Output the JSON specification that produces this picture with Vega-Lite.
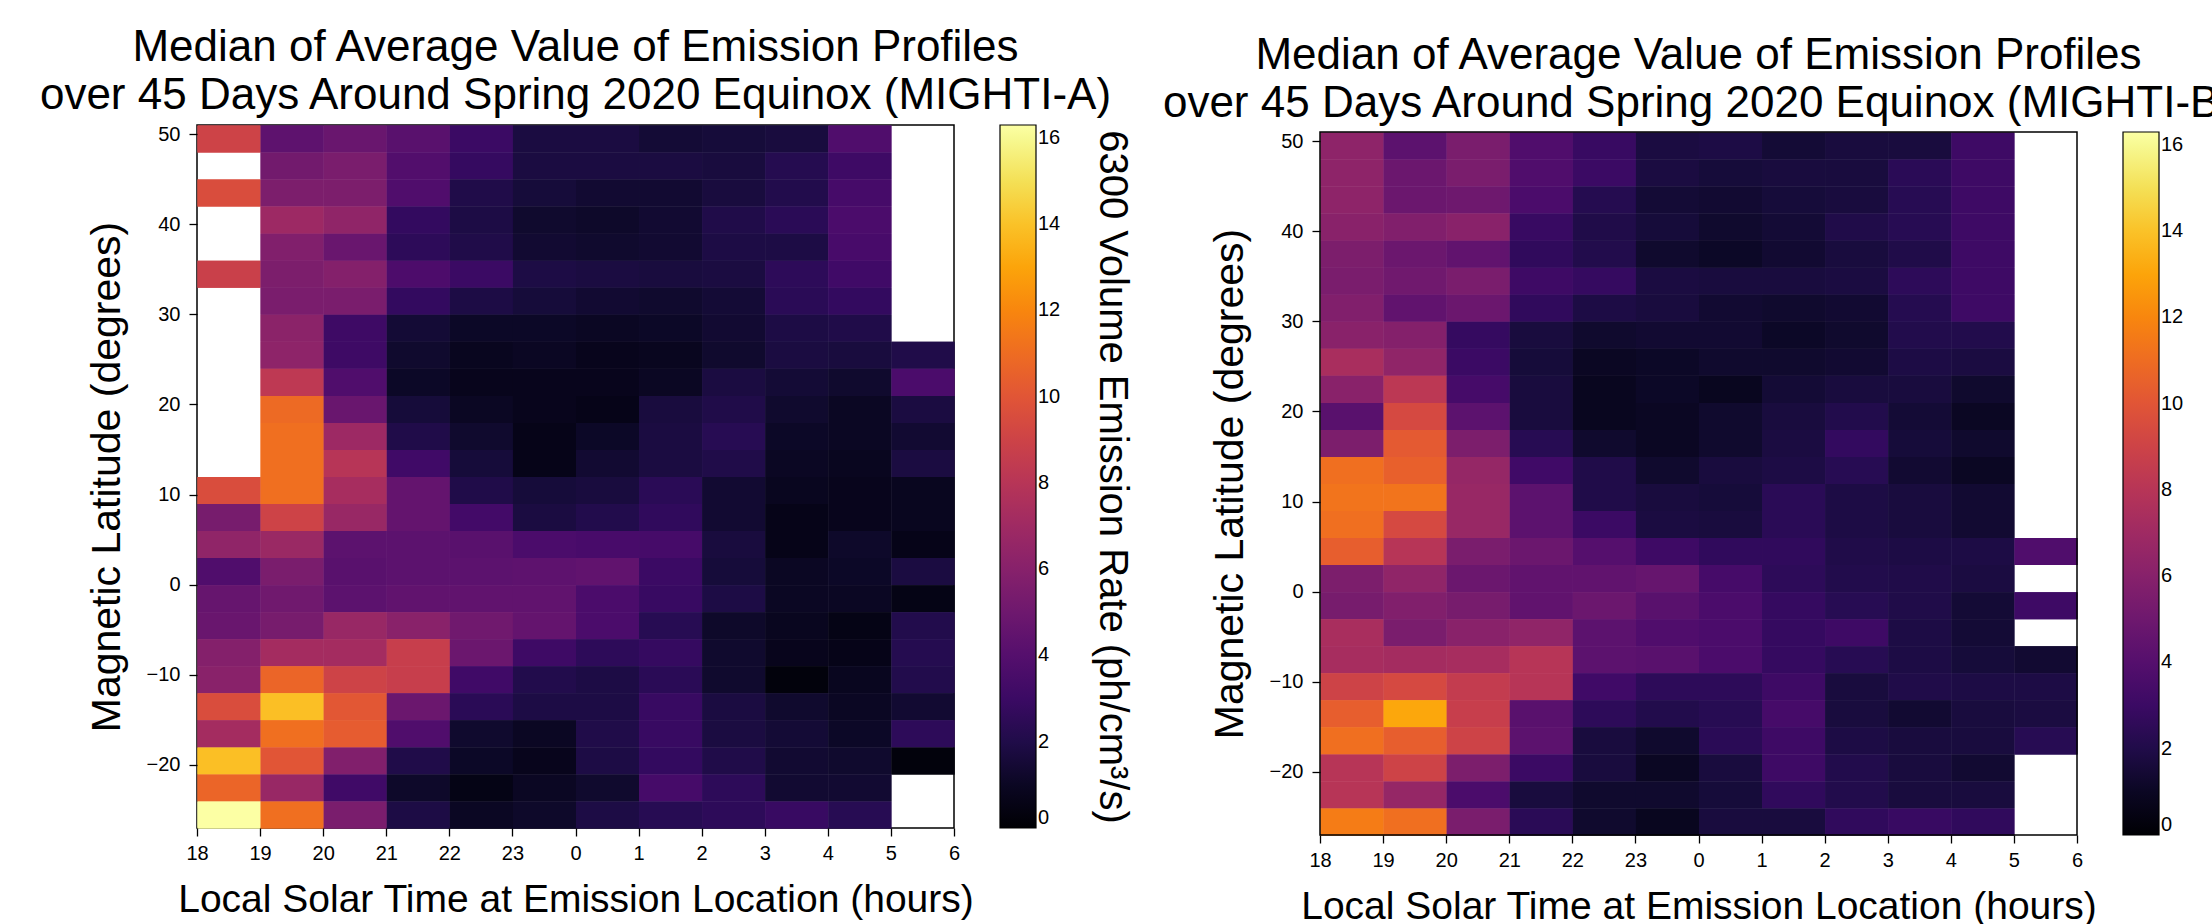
{
"$schema": "https://vega.github.io/schema/vega-lite/v6.json",
"padding": {"left": 37, "top": 25, "right": 0, "bottom": 0},
"background": "white",
"datasets": {
"a": [
{"h":0,"lat":48,"v":9.0},{"h":1,"lat":48,"v":4.4},{"h":2,"lat":48,"v":4.8},{"h":3,"lat":48,"v":4.2},{"h":4,"lat":48,"v":3.0},{"h":5,"lat":48,"v":1.8},{"h":6,"lat":48,"v":1.8},{"h":7,"lat":48,"v":1.5},{"h":8,"lat":48,"v":1.6},{"h":9,"lat":48,"v":1.7},{"h":10,"lat":48,"v":3.8},
{"h":1,"lat":45,"v":5.2},{"h":2,"lat":45,"v":5.5},{"h":3,"lat":45,"v":3.9},{"h":4,"lat":45,"v":2.8},{"h":5,"lat":45,"v":1.8},{"h":6,"lat":45,"v":1.8},{"h":7,"lat":45,"v":1.8},{"h":8,"lat":45,"v":1.7},{"h":9,"lat":45,"v":2.2},{"h":10,"lat":45,"v":3.1},
{"h":0,"lat":42,"v":9.6},{"h":1,"lat":42,"v":5.6},{"h":2,"lat":42,"v":5.6},{"h":3,"lat":42,"v":3.8},{"h":4,"lat":42,"v":2.0},{"h":5,"lat":42,"v":1.6},{"h":6,"lat":42,"v":1.4},{"h":7,"lat":42,"v":1.4},{"h":8,"lat":42,"v":1.7},{"h":9,"lat":42,"v":2.1},{"h":10,"lat":42,"v":3.4},
{"h":1,"lat":39,"v":6.9},{"h":2,"lat":39,"v":6.4},{"h":3,"lat":39,"v":2.7},{"h":4,"lat":39,"v":1.9},{"h":5,"lat":39,"v":1.3},{"h":6,"lat":39,"v":1.2},{"h":7,"lat":39,"v":1.4},{"h":8,"lat":39,"v":2.0},{"h":9,"lat":39,"v":2.4},{"h":10,"lat":39,"v":3.6},
{"h":1,"lat":36,"v":5.8},{"h":2,"lat":36,"v":4.8},{"h":3,"lat":36,"v":2.5},{"h":4,"lat":36,"v":2.0},{"h":5,"lat":36,"v":1.4},{"h":6,"lat":36,"v":1.3},{"h":7,"lat":36,"v":1.4},{"h":8,"lat":36,"v":1.9},{"h":9,"lat":36,"v":1.9},{"h":10,"lat":36,"v":3.5},
{"h":0,"lat":33,"v":8.8},{"h":1,"lat":33,"v":5.6},{"h":2,"lat":33,"v":5.9},{"h":3,"lat":33,"v":3.7},{"h":4,"lat":33,"v":3.0},{"h":5,"lat":33,"v":1.9},{"h":6,"lat":33,"v":1.8},{"h":7,"lat":33,"v":1.7},{"h":8,"lat":33,"v":1.8},{"h":9,"lat":33,"v":2.5},{"h":10,"lat":33,"v":3.2},
{"h":1,"lat":30,"v":5.5},{"h":2,"lat":30,"v":5.5},{"h":3,"lat":30,"v":2.7},{"h":4,"lat":30,"v":1.9},{"h":5,"lat":30,"v":1.6},{"h":6,"lat":30,"v":1.4},{"h":7,"lat":30,"v":1.3},{"h":8,"lat":30,"v":1.5},{"h":9,"lat":30,"v":2.4},{"h":10,"lat":30,"v":2.7},
{"h":1,"lat":27,"v":6.2},{"h":2,"lat":27,"v":3.1},{"h":3,"lat":27,"v":1.5},{"h":4,"lat":27,"v":1.1},{"h":5,"lat":27,"v":1.1},{"h":6,"lat":27,"v":1.0},{"h":7,"lat":27,"v":1.1},{"h":8,"lat":27,"v":1.4},{"h":9,"lat":27,"v":1.9},{"h":10,"lat":27,"v":2.0},
{"h":1,"lat":24,"v":6.3},{"h":2,"lat":24,"v":3.1},{"h":3,"lat":24,"v":1.3},{"h":4,"lat":24,"v":0.9},{"h":5,"lat":24,"v":1.0},{"h":6,"lat":24,"v":0.8},{"h":7,"lat":24,"v":0.9},{"h":8,"lat":24,"v":1.3},{"h":9,"lat":24,"v":1.8},{"h":10,"lat":24,"v":1.7},{"h":11,"lat":24,"v":2.0},
{"h":1,"lat":21,"v":8.3},{"h":2,"lat":21,"v":3.8},{"h":3,"lat":21,"v":1.1},{"h":4,"lat":21,"v":0.8},{"h":5,"lat":21,"v":0.8},{"h":6,"lat":21,"v":0.8},{"h":7,"lat":21,"v":1.0},{"h":8,"lat":21,"v":1.8},{"h":9,"lat":21,"v":1.5},{"h":10,"lat":21,"v":1.3},{"h":11,"lat":21,"v":3.6},
{"h":1,"lat":18,"v":10.9},{"h":2,"lat":18,"v":4.8},{"h":3,"lat":18,"v":1.6},{"h":4,"lat":18,"v":1.0},{"h":5,"lat":18,"v":0.8},{"h":6,"lat":18,"v":0.7},{"h":7,"lat":18,"v":1.7},{"h":8,"lat":18,"v":2.0},{"h":9,"lat":18,"v":1.3},{"h":10,"lat":18,"v":1.0},{"h":11,"lat":18,"v":1.8},
{"h":1,"lat":15,"v":11.1},{"h":2,"lat":15,"v":6.9},{"h":3,"lat":15,"v":2.0},{"h":4,"lat":15,"v":1.3},{"h":5,"lat":15,"v":0.7},{"h":6,"lat":15,"v":1.1},{"h":7,"lat":15,"v":1.8},{"h":8,"lat":15,"v":2.3},{"h":9,"lat":15,"v":1.1},{"h":10,"lat":15,"v":1.0},{"h":11,"lat":15,"v":1.4},
{"h":1,"lat":12,"v":11.1},{"h":2,"lat":12,"v":8.0},{"h":3,"lat":12,"v":3.2},{"h":4,"lat":12,"v":1.6},{"h":5,"lat":12,"v":0.7},{"h":6,"lat":12,"v":1.4},{"h":7,"lat":12,"v":1.8},{"h":8,"lat":12,"v":2.0},{"h":9,"lat":12,"v":1.0},{"h":10,"lat":12,"v":0.9},{"h":11,"lat":12,"v":1.8},
{"h":0,"lat":9,"v":9.6},{"h":1,"lat":9,"v":11.1},{"h":2,"lat":9,"v":7.3},{"h":3,"lat":9,"v":4.6},{"h":4,"lat":9,"v":2.0},{"h":5,"lat":9,"v":1.6},{"h":6,"lat":9,"v":1.7},{"h":7,"lat":9,"v":2.4},{"h":8,"lat":9,"v":1.4},{"h":9,"lat":9,"v":0.9},{"h":10,"lat":9,"v":0.8},{"h":11,"lat":9,"v":0.9},
{"h":0,"lat":6,"v":5.4},{"h":1,"lat":6,"v":9.0},{"h":2,"lat":6,"v":6.7},{"h":3,"lat":6,"v":4.6},{"h":4,"lat":6,"v":3.3},{"h":5,"lat":6,"v":1.8},{"h":6,"lat":6,"v":2.1},{"h":7,"lat":6,"v":2.6},{"h":8,"lat":6,"v":1.4},{"h":9,"lat":6,"v":0.7},{"h":10,"lat":6,"v":0.8},{"h":11,"lat":6,"v":0.9},
{"h":0,"lat":3,"v":6.4},{"h":1,"lat":3,"v":6.8},{"h":2,"lat":3,"v":4.3},{"h":3,"lat":3,"v":4.3},{"h":4,"lat":3,"v":4.2},{"h":5,"lat":3,"v":3.6},{"h":6,"lat":3,"v":3.5},{"h":7,"lat":3,"v":3.4},{"h":8,"lat":3,"v":1.7},{"h":9,"lat":3,"v":0.7},{"h":10,"lat":3,"v":1.2},{"h":11,"lat":3,"v":0.7},
{"h":0,"lat":0,"v":3.8},{"h":1,"lat":0,"v":5.5},{"h":2,"lat":0,"v":4.2},{"h":3,"lat":0,"v":4.3},{"h":4,"lat":0,"v":4.3},{"h":5,"lat":0,"v":4.4},{"h":6,"lat":0,"v":4.5},{"h":7,"lat":0,"v":3.0},{"h":8,"lat":0,"v":1.6},{"h":9,"lat":0,"v":1.0},{"h":10,"lat":0,"v":1.1},{"h":11,"lat":0,"v":1.8},
{"h":0,"lat":-3,"v":4.7},{"h":1,"lat":-3,"v":5.1},{"h":2,"lat":-3,"v":4.3},{"h":3,"lat":-3,"v":4.5},{"h":4,"lat":-3,"v":4.5},{"h":5,"lat":-3,"v":4.5},{"h":6,"lat":-3,"v":3.6},{"h":7,"lat":-3,"v":2.9},{"h":8,"lat":-3,"v":1.9},{"h":9,"lat":-3,"v":1.0},{"h":10,"lat":-3,"v":1.0},{"h":11,"lat":-3,"v":0.6},
{"h":0,"lat":-6,"v":4.8},{"h":1,"lat":-6,"v":5.4},{"h":2,"lat":-6,"v":6.7},{"h":3,"lat":-6,"v":6.1},{"h":4,"lat":-6,"v":5.1},{"h":5,"lat":-6,"v":4.6},{"h":6,"lat":-6,"v":3.6},{"h":7,"lat":-6,"v":2.3},{"h":8,"lat":-6,"v":1.2},{"h":9,"lat":-6,"v":0.9},{"h":10,"lat":-6,"v":0.6},{"h":11,"lat":-6,"v":2.1},
{"h":0,"lat":-9,"v":5.9},{"h":1,"lat":-9,"v":7.2},{"h":2,"lat":-9,"v":7.2},{"h":3,"lat":-9,"v":8.7},{"h":4,"lat":-9,"v":4.9},{"h":5,"lat":-9,"v":3.1},{"h":6,"lat":-9,"v":2.5},{"h":7,"lat":-9,"v":2.8},{"h":8,"lat":-9,"v":1.3},{"h":9,"lat":-9,"v":0.8},{"h":10,"lat":-9,"v":0.7},{"h":11,"lat":-9,"v":2.2},
{"h":0,"lat":-12,"v":6.1},{"h":1,"lat":-12,"v":10.7},{"h":2,"lat":-12,"v":9.0},{"h":3,"lat":-12,"v":8.7},{"h":4,"lat":-12,"v":3.2},{"h":5,"lat":-12,"v":2.1},{"h":6,"lat":-12,"v":1.9},{"h":7,"lat":-12,"v":2.4},{"h":8,"lat":-12,"v":1.3},{"h":9,"lat":-12,"v":0.3},{"h":10,"lat":-12,"v":0.9},{"h":11,"lat":-12,"v":2.1},
{"h":0,"lat":-15,"v":9.6},{"h":1,"lat":-15,"v":13.9},{"h":2,"lat":-15,"v":10.1},{"h":3,"lat":-15,"v":4.9},{"h":4,"lat":-15,"v":2.4},{"h":5,"lat":-15,"v":1.9},{"h":6,"lat":-15,"v":1.9},{"h":7,"lat":-15,"v":2.9},{"h":8,"lat":-15,"v":1.8},{"h":9,"lat":-15,"v":1.3},{"h":10,"lat":-15,"v":1.0},{"h":11,"lat":-15,"v":1.4},
{"h":0,"lat":-18,"v":7.2},{"h":1,"lat":-18,"v":11.1},{"h":2,"lat":-18,"v":10.3},{"h":3,"lat":-18,"v":3.8},{"h":4,"lat":-18,"v":1.3},{"h":5,"lat":-18,"v":1.0},{"h":6,"lat":-18,"v":2.0},{"h":7,"lat":-18,"v":2.9},{"h":8,"lat":-18,"v":1.8},{"h":9,"lat":-18,"v":1.5},{"h":10,"lat":-18,"v":1.1},{"h":11,"lat":-18,"v":2.5},
{"h":0,"lat":-21,"v":13.9},{"h":1,"lat":-21,"v":10.0},{"h":2,"lat":-21,"v":5.8},{"h":3,"lat":-21,"v":2.0},{"h":4,"lat":-21,"v":1.1},{"h":5,"lat":-21,"v":0.8},{"h":6,"lat":-21,"v":1.9},{"h":7,"lat":-21,"v":2.7},{"h":8,"lat":-21,"v":2.0},{"h":9,"lat":-21,"v":1.4},{"h":10,"lat":-21,"v":1.3},{"h":11,"lat":-21,"v":0.3},
{"h":0,"lat":-24,"v":10.7},{"h":1,"lat":-24,"v":6.7},{"h":2,"lat":-24,"v":3.2},{"h":3,"lat":-24,"v":1.2},{"h":4,"lat":-24,"v":0.6},{"h":5,"lat":-24,"v":1.0},{"h":6,"lat":-24,"v":1.3},{"h":7,"lat":-24,"v":3.4},{"h":8,"lat":-24,"v":2.5},{"h":9,"lat":-24,"v":1.4},{"h":10,"lat":-24,"v":1.4},
{"h":0,"lat":-27,"v":16.3},{"h":1,"lat":-27,"v":11.1},{"h":2,"lat":-27,"v":5.5},{"h":3,"lat":-27,"v":1.9},{"h":4,"lat":-27,"v":1.0},{"h":5,"lat":-27,"v":1.2},{"h":6,"lat":-27,"v":1.9},{"h":7,"lat":-27,"v":2.3},{"h":8,"lat":-27,"v":2.5},{"h":9,"lat":-27,"v":2.9},{"h":10,"lat":-27,"v":2.3}
],
"b": [
{"h":0,"lat":48,"v":6.3},{"h":1,"lat":48,"v":4.3},{"h":2,"lat":48,"v":5.5},{"h":3,"lat":48,"v":3.8},{"h":4,"lat":48,"v":2.9},{"h":5,"lat":48,"v":1.8},{"h":6,"lat":48,"v":1.9},{"h":7,"lat":48,"v":1.5},{"h":8,"lat":48,"v":1.7},{"h":9,"lat":48,"v":1.7},{"h":10,"lat":48,"v":3.1},
{"h":0,"lat":45,"v":6.3},{"h":1,"lat":45,"v":4.9},{"h":2,"lat":45,"v":5.5},{"h":3,"lat":45,"v":3.8},{"h":4,"lat":45,"v":3.0},{"h":5,"lat":45,"v":1.8},{"h":6,"lat":45,"v":1.6},{"h":7,"lat":45,"v":1.7},{"h":8,"lat":45,"v":1.7},{"h":9,"lat":45,"v":2.4},{"h":10,"lat":45,"v":3.1},
{"h":0,"lat":42,"v":6.3},{"h":1,"lat":42,"v":4.9},{"h":2,"lat":42,"v":5.0},{"h":3,"lat":42,"v":3.6},{"h":4,"lat":42,"v":2.2},{"h":5,"lat":42,"v":1.5},{"h":6,"lat":42,"v":1.4},{"h":7,"lat":42,"v":1.6},{"h":8,"lat":42,"v":1.7},{"h":9,"lat":42,"v":2.3},{"h":10,"lat":42,"v":3.1},
{"h":0,"lat":39,"v":6.1},{"h":1,"lat":39,"v":5.8},{"h":2,"lat":39,"v":6.1},{"h":3,"lat":39,"v":2.9},{"h":4,"lat":39,"v":2.0},{"h":5,"lat":39,"v":1.6},{"h":6,"lat":39,"v":1.3},{"h":7,"lat":39,"v":1.5},{"h":8,"lat":39,"v":2.0},{"h":9,"lat":39,"v":2.3},{"h":10,"lat":39,"v":3.1},
{"h":0,"lat":36,"v":5.6},{"h":1,"lat":36,"v":4.9},{"h":2,"lat":36,"v":4.5},{"h":3,"lat":36,"v":2.6},{"h":4,"lat":36,"v":2.1},{"h":5,"lat":36,"v":1.3},{"h":6,"lat":36,"v":1.1},{"h":7,"lat":36,"v":1.4},{"h":8,"lat":36,"v":1.7},{"h":9,"lat":36,"v":2.0},{"h":10,"lat":36,"v":3.1},
{"h":0,"lat":33,"v":5.5},{"h":1,"lat":33,"v":5.1},{"h":2,"lat":33,"v":5.5},{"h":3,"lat":33,"v":3.1},{"h":4,"lat":33,"v":2.8},{"h":5,"lat":33,"v":1.8},{"h":6,"lat":33,"v":1.7},{"h":7,"lat":33,"v":1.7},{"h":8,"lat":33,"v":1.8},{"h":9,"lat":33,"v":2.5},{"h":10,"lat":33,"v":3.1},
{"h":0,"lat":30,"v":5.8},{"h":1,"lat":30,"v":4.5},{"h":2,"lat":30,"v":4.9},{"h":3,"lat":30,"v":2.6},{"h":4,"lat":30,"v":1.9},{"h":5,"lat":30,"v":1.7},{"h":6,"lat":30,"v":1.4},{"h":7,"lat":30,"v":1.3},{"h":8,"lat":30,"v":1.4},{"h":9,"lat":30,"v":2.2},{"h":10,"lat":30,"v":3.1},
{"h":0,"lat":27,"v":6.1},{"h":1,"lat":27,"v":5.9},{"h":2,"lat":27,"v":2.8},{"h":3,"lat":27,"v":1.7},{"h":4,"lat":27,"v":1.3},{"h":5,"lat":27,"v":1.4},{"h":6,"lat":27,"v":1.4},{"h":7,"lat":27,"v":1.1},{"h":8,"lat":27,"v":1.3},{"h":9,"lat":27,"v":2.1},{"h":10,"lat":27,"v":2.1},
{"h":0,"lat":24,"v":7.4},{"h":1,"lat":24,"v":6.4},{"h":2,"lat":24,"v":3.0},{"h":3,"lat":24,"v":1.6},{"h":4,"lat":24,"v":1.0},{"h":5,"lat":24,"v":1.1},{"h":6,"lat":24,"v":1.3},{"h":7,"lat":24,"v":1.3},{"h":8,"lat":24,"v":1.4},{"h":9,"lat":24,"v":1.9},{"h":10,"lat":24,"v":1.8},
{"h":0,"lat":21,"v":6.1},{"h":1,"lat":21,"v":8.2},{"h":2,"lat":21,"v":3.4},{"h":3,"lat":21,"v":1.7},{"h":4,"lat":21,"v":0.9},{"h":5,"lat":21,"v":1.1},{"h":6,"lat":21,"v":0.9},{"h":7,"lat":21,"v":1.5},{"h":8,"lat":21,"v":1.7},{"h":9,"lat":21,"v":1.7},{"h":10,"lat":21,"v":1.3},
{"h":0,"lat":18,"v":4.2},{"h":1,"lat":18,"v":9.4},{"h":2,"lat":18,"v":4.3},{"h":3,"lat":18,"v":1.7},{"h":4,"lat":18,"v":0.9},{"h":5,"lat":18,"v":1.0},{"h":6,"lat":18,"v":1.3},{"h":7,"lat":18,"v":1.7},{"h":8,"lat":18,"v":2.1},{"h":9,"lat":18,"v":1.5},{"h":10,"lat":18,"v":1.0},
{"h":0,"lat":15,"v":5.6},{"h":1,"lat":15,"v":10.2},{"h":2,"lat":15,"v":5.6},{"h":3,"lat":15,"v":2.3},{"h":4,"lat":15,"v":1.3},{"h":5,"lat":15,"v":1.0},{"h":6,"lat":15,"v":1.3},{"h":7,"lat":15,"v":1.8},{"h":8,"lat":15,"v":2.7},{"h":9,"lat":15,"v":1.6},{"h":10,"lat":15,"v":1.3},
{"h":0,"lat":12,"v":11.1},{"h":1,"lat":12,"v":10.5},{"h":2,"lat":12,"v":6.6},{"h":3,"lat":12,"v":3.2},{"h":4,"lat":12,"v":2.0},{"h":5,"lat":12,"v":1.3},{"h":6,"lat":12,"v":1.7},{"h":7,"lat":12,"v":1.9},{"h":8,"lat":12,"v":2.3},{"h":9,"lat":12,"v":1.4},{"h":10,"lat":12,"v":1.0},
{"h":0,"lat":9,"v":11.3},{"h":1,"lat":9,"v":11.3},{"h":2,"lat":9,"v":6.7},{"h":3,"lat":9,"v":4.3},{"h":4,"lat":9,"v":2.0},{"h":5,"lat":9,"v":1.7},{"h":6,"lat":9,"v":1.6},{"h":7,"lat":9,"v":2.4},{"h":8,"lat":9,"v":1.9},{"h":9,"lat":9,"v":1.7},{"h":10,"lat":9,"v":1.4},
{"h":0,"lat":6,"v":11.1},{"h":1,"lat":6,"v":9.4},{"h":2,"lat":6,"v":6.7},{"h":3,"lat":6,"v":4.3},{"h":4,"lat":6,"v":3.0},{"h":5,"lat":6,"v":1.8},{"h":6,"lat":6,"v":1.7},{"h":7,"lat":6,"v":2.4},{"h":8,"lat":6,"v":1.9},{"h":9,"lat":6,"v":1.7},{"h":10,"lat":6,"v":1.4},
{"h":0,"lat":3,"v":10.4},{"h":1,"lat":3,"v":8.0},{"h":2,"lat":3,"v":5.5},{"h":3,"lat":3,"v":4.9},{"h":4,"lat":3,"v":4.0},{"h":5,"lat":3,"v":3.1},{"h":6,"lat":3,"v":2.6},{"h":7,"lat":3,"v":2.6},{"h":8,"lat":3,"v":2.0},{"h":9,"lat":3,"v":1.9},{"h":10,"lat":3,"v":1.9},{"h":11,"lat":3,"v":3.8},
{"h":0,"lat":0,"v":5.6},{"h":1,"lat":0,"v":6.4},{"h":2,"lat":0,"v":4.9},{"h":3,"lat":0,"v":4.5},{"h":4,"lat":0,"v":4.5},{"h":5,"lat":0,"v":4.7},{"h":6,"lat":0,"v":3.4},{"h":7,"lat":0,"v":2.5},{"h":8,"lat":0,"v":2.1},{"h":9,"lat":0,"v":2.0},{"h":10,"lat":0,"v":1.8},
{"h":0,"lat":-3,"v":5.4},{"h":1,"lat":-3,"v":5.8},{"h":2,"lat":-3,"v":5.4},{"h":3,"lat":-3,"v":4.5},{"h":4,"lat":-3,"v":4.9},{"h":5,"lat":-3,"v":4.2},{"h":6,"lat":-3,"v":3.6},{"h":7,"lat":-3,"v":2.8},{"h":8,"lat":-3,"v":2.3},{"h":9,"lat":-3,"v":2.0},{"h":10,"lat":-3,"v":1.5},{"h":11,"lat":-3,"v":3.1},
{"h":0,"lat":-6,"v":7.4},{"h":1,"lat":-6,"v":5.5},{"h":2,"lat":-6,"v":6.1},{"h":3,"lat":-6,"v":6.4},{"h":4,"lat":-6,"v":4.3},{"h":5,"lat":-6,"v":3.8},{"h":6,"lat":-6,"v":3.6},{"h":7,"lat":-6,"v":2.8},{"h":8,"lat":-6,"v":3.1},{"h":9,"lat":-6,"v":1.9},{"h":10,"lat":-6,"v":1.5},
{"h":0,"lat":-9,"v":7.3},{"h":1,"lat":-9,"v":7.2},{"h":2,"lat":-9,"v":7.3},{"h":3,"lat":-9,"v":8.0},{"h":4,"lat":-9,"v":4.3},{"h":5,"lat":-9,"v":4.2},{"h":6,"lat":-9,"v":3.6},{"h":7,"lat":-9,"v":2.8},{"h":8,"lat":-9,"v":2.3},{"h":9,"lat":-9,"v":1.9},{"h":10,"lat":-9,"v":1.6},{"h":11,"lat":-9,"v":1.4},
{"h":0,"lat":-12,"v":9.0},{"h":1,"lat":-12,"v":9.4},{"h":2,"lat":-12,"v":8.5},{"h":3,"lat":-12,"v":8.0},{"h":4,"lat":-12,"v":3.2},{"h":5,"lat":-12,"v":2.5},{"h":6,"lat":-12,"v":2.5},{"h":7,"lat":-12,"v":3.1},{"h":8,"lat":-12,"v":1.7},{"h":9,"lat":-12,"v":2.0},{"h":10,"lat":-12,"v":1.9},{"h":11,"lat":-12,"v":1.9},
{"h":0,"lat":-15,"v":10.4},{"h":1,"lat":-15,"v":13.1},{"h":2,"lat":-15,"v":8.7},{"h":3,"lat":-15,"v":4.2},{"h":4,"lat":-15,"v":2.5},{"h":5,"lat":-15,"v":2.1},{"h":6,"lat":-15,"v":2.3},{"h":7,"lat":-15,"v":3.4},{"h":8,"lat":-15,"v":1.7},{"h":9,"lat":-15,"v":1.4},{"h":10,"lat":-15,"v":1.7},{"h":11,"lat":-15,"v":1.8},
{"h":0,"lat":-18,"v":11.1},{"h":1,"lat":-18,"v":10.4},{"h":2,"lat":-18,"v":9.0},{"h":3,"lat":-18,"v":4.3},{"h":4,"lat":-18,"v":1.7},{"h":5,"lat":-18,"v":1.3},{"h":6,"lat":-18,"v":2.4},{"h":7,"lat":-18,"v":3.1},{"h":8,"lat":-18,"v":1.9},{"h":9,"lat":-18,"v":1.7},{"h":10,"lat":-18,"v":1.7},{"h":11,"lat":-18,"v":2.3},
{"h":0,"lat":-21,"v":8.0},{"h":1,"lat":-21,"v":9.0},{"h":2,"lat":-21,"v":5.6},{"h":3,"lat":-21,"v":3.0},{"h":4,"lat":-21,"v":1.7},{"h":5,"lat":-21,"v":1.0},{"h":6,"lat":-21,"v":1.7},{"h":7,"lat":-21,"v":3.1},{"h":8,"lat":-21,"v":2.1},{"h":9,"lat":-21,"v":1.7},{"h":10,"lat":-21,"v":1.4},
{"h":0,"lat":-24,"v":8.0},{"h":1,"lat":-24,"v":6.6},{"h":2,"lat":-24,"v":3.6},{"h":3,"lat":-24,"v":1.7},{"h":4,"lat":-24,"v":1.3},{"h":5,"lat":-24,"v":1.3},{"h":6,"lat":-24,"v":1.6},{"h":7,"lat":-24,"v":2.6},{"h":8,"lat":-24,"v":2.1},{"h":9,"lat":-24,"v":1.7},{"h":10,"lat":-24,"v":1.7},
{"h":0,"lat":-27,"v":11.6},{"h":1,"lat":-27,"v":11.1},{"h":2,"lat":-27,"v":5.5},{"h":3,"lat":-27,"v":2.4},{"h":4,"lat":-27,"v":1.3},{"h":5,"lat":-27,"v":0.9},{"h":6,"lat":-27,"v":1.7},{"h":7,"lat":-27,"v":1.7},{"h":8,"lat":-27,"v":2.6},{"h":9,"lat":-27,"v":2.9},{"h":10,"lat":-27,"v":2.6}
]
},
"spacing": 27,
"resolve": {"scale": {"color": "independent"}, "legend": {"color": "independent"}},
"hconcat": [
{
"width": 757, "height": 703,
"title": {"text": ["Median of Average Value of Emission Profiles", "over 45 Days Around Spring 2020 Equinox (MIGHTI-A)"], "offset": 6},
"data": {"name": "a"},
"encoding": {
"x": {"field": "h", "type": "quantitative", "bin": {"binned": true, "step": 1}, "scale": {"domain": [0, 12], "nice": false, "zero": false}, "axis": {"values": [0,1,2,3,4,5,6,7,8,9,10,11,12], "labelExpr": "(datum.value + 18) % 24", "title": "Local Solar Time at Emission Location (hours)"}},
"y": {"field": "lat", "type": "quantitative", "bin": {"binned": true, "step": 3}, "scale": {"domain": [-27, 51], "nice": false, "zero": false}, "axis": {"values": [-20,-10,0,10,20,30,40,50], "title": "Magnetic Latitude (degrees)"}},
"color": {"field": "v", "type": "quantitative", "scale": {"scheme": "inferno", "domain": [0, 16.3]}, "legend": {"type": "gradient", "title": "6300 Volume Emission Rate (ph/cm³/s)", "values": [0,2,4,6,8,10,12,14,16]}}
},
"layer": [
{"mark": {"type": "rect"}},
{"mark": {"type": "rect"}}
]
},
{
"width": 757, "height": 710,
"view": {"stroke": null},
"title": {"text": ["Median of Average Value of Emission Profiles", "over 45 Days Around Spring 2020 Equinox (MIGHTI-B)"], "offset": -1},
"layer": [
{
"data": {"name": "b"},
"encoding": {
"x": {"field": "h", "type": "quantitative", "bin": {"binned": true, "step": 1}, "scale": {"domain": [0, 12], "nice": false, "zero": false}, "axis": {"values": [0,1,2,3,4,5,6,7,8,9,10,11,12], "labelExpr": "(datum.value + 18) % 24", "title": "Local Solar Time at Emission Location (hours)"}},
"y": {"field": "lat", "type": "quantitative", "bin": {"binned": true, "step": 3}, "scale": {"domain": [-27, 51], "range": [710, 7], "nice": false, "zero": false}, "axis": {"values": [-20,-10,0,10,20,30,40,50], "title": "Magnetic Latitude (degrees)"}},
"color": {"field": "v", "type": "quantitative", "scale": {"scheme": "inferno", "domain": [0, 16.3]}, "legend": {"type": "gradient", "orient": "none", "legendX": 803, "legendY": 7, "title": "6300 Volume Emission Rate (ph/cm³/s)", "values": [0,2,4,6,8,10,12,14,16]}}
},
"layer": [
{"mark": {"type": "rect"}},
{"mark": {"type": "rect"}}
]
},
{
"data": {"values": [{}]},
"mark": {"type": "rect", "filled": false, "stroke": "black", "strokeWidth": 1.5},
"encoding": {"x": {"datum": 0}, "x2": {"datum": 12}, "y": {"datum": -27}, "y2": {"datum": 51}}
}
]
}
],
"config": {
"font": "Liberation Sans",
"view": {"stroke": "black", "strokeWidth": 1.5},
"title": {"font": "Liberation Sans", "fontSize": 44, "fontWeight": "normal", "color": "black", "lineHeight": 48, "anchor": "middle", "frame": "group", "limit": 3000},
"axis": {"labelFont": "Liberation Sans", "labelFontSize": 20, "labelColor": "black", "tickColor": "black", "tickSize": 8, "tickWidth": 1.3, "domain": false, "grid": false, "titleFont": "Liberation Sans", "titleFontWeight": "normal", "titleColor": "black", "titleLimit": 2000, "labelPadding": 9, "labelOverlap": false, "labelFlush": false},
"axisX": {"titlePadding": 17, "labelPadding": 7, "titleFontSize": 39},
"axisY": {"titlePadding": 18, "titleFontSize": 41},
"legend": {"orient": "right", "offset": 46, "padding": 0, "gradientLength": 703, "gradientThickness": 36, "gradientStrokeColor": "black", "gradientStrokeWidth": 1.2, "labelFont": "Liberation Sans", "labelFontSize": 20, "labelColor": "black", "labelOffset": 10, "labelOverlap": false, "labelBaseline": "middle", "titleOrient": "right", "titleAngle": 270, "titleAnchor": "middle", "titleFont": "Liberation Sans", "titleFontSize": 40, "titleFontWeight": "normal", "titleColor": "black", "titleLimit": 2000, "titlePadding": 32}
}
}
